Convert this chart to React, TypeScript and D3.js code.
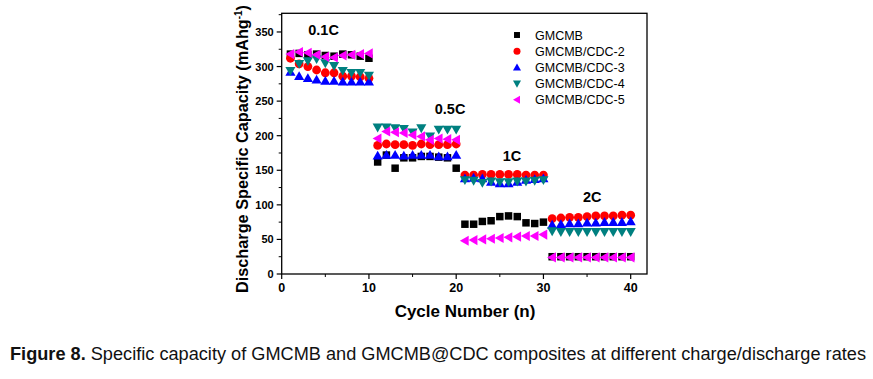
import React from "react";
import * as d3 from "d3";

const cycles: number[] = d3.range(1, 41);

const gmcmb: number[] = [
  318, 319, 317, 318, 316, 315, 318, 317, 315, 312,
  162, 172, 153, 168, 168, 170, 170, 169, 168, 153,
  72, 72, 76, 77, 83, 84, 83, 74, 73, 75,
  25, 25, 25, 25, 25, 25, 25, 25, 25, 25,
];
const cdc2: number[] = [
  312, 304, 300, 295, 291, 291, 286, 286, 285, 283,
  186, 188, 187, 187, 186, 188, 187, 187, 187, 188,
  143, 143, 144, 144, 144, 144, 144, 143, 143, 143,
  80, 81, 82, 82, 83, 84, 84, 84, 85, 85,
];
const cdc3: number[] = [
  292, 286, 283, 281, 279, 279, 278, 278, 278, 278,
  171, 172, 172, 171, 172, 172, 172, 170, 170, 172,
  138, 139, 138, 133, 131, 131, 133, 136, 137, 138,
  71, 72, 73, 73, 74, 74, 75, 75, 75, 76,
];
const cdc4: number[] = [
  294, 304, 308, 311, 305, 301, 294, 291, 291, 287,
  212, 212, 211, 210, 205, 211, 199, 209, 209, 209,
  136, 135, 132, 134, 133, 133, 134, 134, 135, 136,
  62, 61, 61, 61, 61, 61, 61, 61, 61, 61,
];
const cdc5: number[] = [
  318, 321, 320, 317, 314, 313, 316, 317, 318, 319,
  196, 206, 205, 204, 201, 199, 194, 196, 195, 194,
  48, 49, 50, 51, 52, 53, 54, 55, 55, 57,
  24, 24, 24, 24, 24, 24, 24, 24, 24, 24,
];

const seriesNames: string[] = ["GMCMB", "GMCMB/CDC-2", "GMCMB/CDC-3", "GMCMB/CDC-4", "GMCMB/CDC-5"];
const seriesValues: number[][] = [gmcmb, cdc2, cdc3, cdc4, cdc5];
const seriesColors: string[] = ["#000000", "#ff0000", "#0000ff", "#008080", "#ff00ff"];
const seriesShapes: string[] = ["square", "circle", "up", "down", "left"];

const xTicks: number[] = [0, 10, 20, 30, 40];
const yTicks: number[] = [0, 50, 100, 150, 200, 250, 300, 350];
const rateLabels: string[] = ["0.1C", "0.5C", "1C", "2C"];
const rateLabelPos: [number, number][] = [
  [4.8, 345],
  [19.3, 232],
  [26.4, 163],
  [35.6, 104],
];

const FONT = "'Liberation Sans', Arial, Helvetica, sans-serif";

function Marker({ shape, x, y, s, color }: { shape: string; x: number; y: number; s: number; color: string }) {
  const h = s / 2;
  if (shape === "square") return <rect x={x - h * 0.85} y={y - h * 0.85} width={s * 0.85} height={s * 0.85} fill={color} />;
  if (shape === "circle") return <circle cx={x} cy={y} r={h} fill={color} />;
  const t = h * 1.15;
  let pts: [number, number][] = [];
  if (shape === "up") pts = [[x, y - t], [x + t, y + t * 0.75], [x - t, y + t * 0.75]];
  if (shape === "down") pts = [[x, y + t], [x + t, y - t * 0.75], [x - t, y - t * 0.75]];
  if (shape === "left") pts = [[x - t, y], [x + t * 0.75, y - t], [x + t * 0.75, y + t]];
  return <polygon points={pts.map((p) => p.join(",")).join(" ")} fill={color} />;
}

export default function App() {
  const x = d3.scaleLinear().domain([0, 41.87]).range([281.7, 647]);
  const y = d3.scaleLinear().domain([0, 377]).range([274, 13.3]);
  const [x0, x1] = x.range();
  const [y0, y1] = y.range();
  const xMinor = d3.range(0, 42, 5).filter((v) => v % 10 !== 0);
  const yMinor = d3.range(25, 377, 50);

  return (
    <svg width={873} height={379} style={{ position: "absolute", left: 0, top: 0, background: "#fff" }} fontFamily={FONT}>
      <rect x={0} y={0} width={873} height={379} fill="#fff" />
      {seriesValues.map((vals, si) => (
        <g key={si}>
          {vals.map((v, i) => (
            <Marker key={i} shape={seriesShapes[si]} x={x(cycles[i])} y={y(v)} s={8.8} color={seriesColors[si]} />
          ))}
        </g>
      ))}
      <rect x={x0} y={y1} width={x1 - x0} height={y0 - y1} fill="none" stroke="#000" strokeWidth={1.3} />
      {xTicks.map((t) => (
        <g key={t}>
          <line x1={x(t)} x2={x(t)} y1={y0} y2={y0 + 5} stroke="#000" strokeWidth={1.2} />
          <text x={x(t)} y={y0 + 18} textAnchor="middle" fontSize={12.5} fontWeight="bold">{t}</text>
        </g>
      ))}
      {xMinor.map((t) => (
        <line key={t} x1={x(t)} x2={x(t)} y1={y0} y2={y0 + 3} stroke="#000" strokeWidth={1} />
      ))}
      {yTicks.map((t) => (
        <g key={t}>
          <line x1={x0 - 5} x2={x0} y1={y(t)} y2={y(t)} stroke="#000" strokeWidth={1.2} />
          <text x={x0 - 8} y={y(t) + 4} textAnchor="end" fontSize={11} fontWeight="bold">{t}</text>
        </g>
      ))}
      {yMinor.map((t) => (
        <line key={t} x1={x0 - 3} x2={x0} y1={y(t)} y2={y(t)} stroke="#000" strokeWidth={1} />
      ))}
      <text x={465} y={317} textAnchor="middle" fontSize={17} fontWeight="bold">Cycle Number (n)</text>
      <text transform="translate(248,149) rotate(-90)" textAnchor="middle" fontSize={16.5} fontWeight="bold" textLength={288} lengthAdjust="spacingAndGlyphs">
        Discharge Specific Capacity (mAhg<tspan dy={-6} fontSize={10}>-1</tspan><tspan dy={6}>)</tspan>
      </text>
      {rateLabels.map((l, i) => (
        <text key={l} x={x(rateLabelPos[i][0])} y={y(rateLabelPos[i][1])} textAnchor="middle" fontSize={14.5} fontWeight="bold">{l}</text>
      ))}
      {seriesNames.map((n, i) => (
        <g key={n}>
          <Marker shape={seriesShapes[i]} x={517} y={35 + i * 16.2} s={7} color={seriesColors[i]} />
          <text x={535} y={35 + i * 16.2 + 4.5} fontSize={12.5}>{n}</text>
        </g>
      ))}
      <text x={10} y={360} fontSize={17.5} fill="#111" textLength={856} lengthAdjust="spacingAndGlyphs">
        <tspan fontWeight="bold">Figure 8.</tspan> Specific capacity of GMCMB and GMCMB@CDC composites at different charge/discharge rates
      </text>
    </svg>
  );
}
